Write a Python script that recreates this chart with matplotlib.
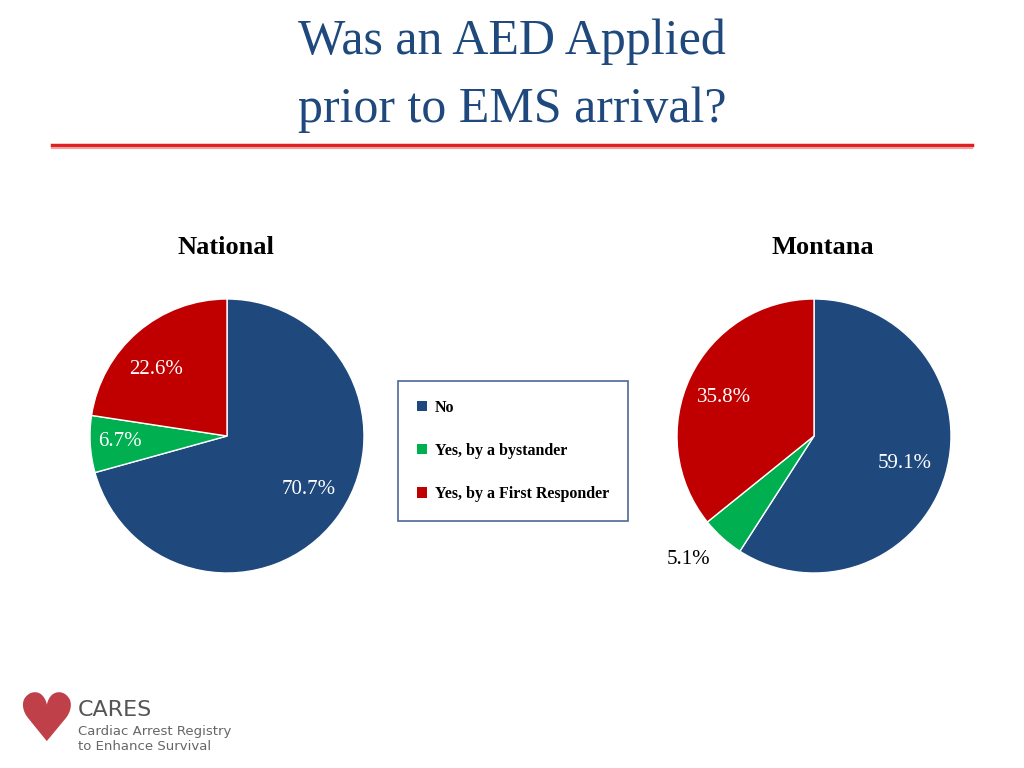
import matplotlib
matplotlib.use("Agg")
import matplotlib.pyplot as plt
from matplotlib.lines import Line2D
from matplotlib.patches import Patch

categories = ["No", "Yes, by a bystander", "Yes, by a First Responder"]
national = [70.7, 6.7, 22.6]
montana = [59.1, 5.1, 35.8]
colors = ["#1F497D", "#00B050", "#C00000"]

W, H = 1024, 768
fig = plt.figure(figsize=(W/100, H/100), dpi=100)
serif = "Liberation Serif"

def box(x0, y0, x1, y1):
    return [x0/W, 1 - y1/H, (x1-x0)/W, (y1-y0)/H]

fig.text(512/W, 1-42/H, "Was an AED Applied", ha="center", va="center",
         fontsize=36, color="#1F497D", family=serif)
fig.text(512/W, 1-110/H, "prior to EMS arrival?", ha="center", va="center",
         fontsize=36, color="#1F497D", family=serif)
fig.add_artist(Line2D([52/W, 972/W], [1-145/H, 1-145/H], color="#E02020", lw=2.5))
fig.add_artist(Line2D([52/W, 972/W], [1-148/H, 1-148/H], color="#F0A0A0", lw=1.5))

fig.text(226/W, 1-248/H, "National", ha="center", va="center", fontsize=19,
         fontweight="bold", family=serif)
fig.text(823/W, 1-248/H, "Montana", ha="center", va="center", fontsize=19,
         fontweight="bold", family=serif)

def draw_pie(rect, vals):
    ax = fig.add_axes(rect)
    ax.pie(vals, colors=colors, startangle=90, counterclock=False,
           wedgeprops=dict(edgecolor="white", linewidth=1))
    ax.set_xlim(-1, 1)
    ax.set_ylim(-1, 1)
    ax.set_aspect("equal")
    ax.axis("off")
    return ax

draw_pie(box(90, 299, 364, 573), national)
draw_pie(box(677, 299, 951, 573), montana)

lab = dict(fontsize=15, family=serif, ha="center", va="center")
fig.text(156/W, 1-370/H, f"{national[2]}%", color="white", **lab)
fig.text(120/W, 1-442/H, f"{national[1]}%", color="white", **lab)
fig.text(309/W, 1-490/H, f"{national[0]}%", color="white", **lab)
fig.text(724/W, 1-397/H, f"{montana[2]}%", color="white", **lab)
fig.text(905/W, 1-464/H, f"{montana[0]}%", color="white", **lab)
fig.text(688/W, 1-560/H, f"{montana[1]}%", color="black", **lab)

handles = [Patch(facecolor=c, edgecolor="none") for c in colors]
leg = fig.legend(handles, categories, loc="center", bbox_to_anchor=(513/W, 1-451/H),
                 frameon=True, fancybox=False, edgecolor="#1F3F7F",
                 prop=dict(family=serif, weight="bold", size=11.5),
                 handlelength=0.6, handleheight=0.6, labelspacing=1.7,
                 borderpad=1.2, handletextpad=0.5)
leg.get_frame().set_linewidth(1.2)

fig.text(46/W, 1-722/H, "\u2665", fontsize=48, color="#C0404A", ha="center", va="center")
fig.text(78/W, 1-710/H, "CARES", fontsize=16, color="#555555", ha="left", va="center")
fig.text(78/W, 1-731/H, "Cardiac Arrest Registry", fontsize=9.5, color="#666666", ha="left", va="center")
fig.text(78/W, 1-746/H, "to Enhance Survival", fontsize=9.5, color="#666666", ha="left", va="center")

fig.savefig("out.png", dpi=100, facecolor="white")
